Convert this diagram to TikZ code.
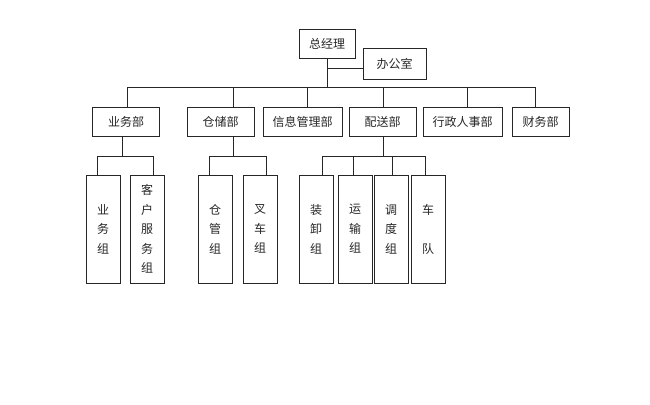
\documentclass[tikz,border=0pt]{standalone}
\usepackage{fontspec}
\newfontfamily\cjk{Noto Sans CJK SC}
\begin{document}
\begin{tikzpicture}[x=0.75pt,y=-0.75pt,
  box/.style={draw=black!85,line width=0.75pt,inner sep=0pt,font=\cjk\fontsize{9}{11}\selectfont,text=black!85,minimum height=29*0.75pt},
  leaf/.style={draw=black!85,line width=0.75pt,inner sep=0pt,font=\cjk\fontsize{9}{14.6}\selectfont,text=black!85,align=center,minimum width=34*0.75pt,minimum height=108*0.75pt},
  conn/.style={draw=black!85,line width=0.75pt}]
\useasboundingbox (0,0) rectangle (650,404);
% top
\node[box,minimum width=56*0.75pt] (gm) at (327,43.5) {总经理};
\node[box,minimum width=63*0.75pt,minimum height=31*0.75pt] (of) at (394.5,63.5) {办公室};
% level 2
\node[box,minimum width=67*0.75pt] (yw) at (126,121.5) {业务部};
\node[box,minimum width=67*0.75pt] (cc) at (220.5,121.5) {仓储部};
\node[box,minimum width=79*0.75pt] (xx) at (302.5,121.5) {信息管理部};
\node[box,minimum width=67*0.75pt] (ps) at (382.5,121.5) {配送部};
\node[box,minimum width=79*0.75pt] (xz) at (462.5,121.5) {行政人事部};
\node[box,minimum width=57*0.75pt] (cw) at (540.5,121.5) {财务部};
\coordinate (bus) at (0,87);
\coordinate (sub) at (0,156);
\coordinate (gmx) at ([xshift=0.4pt]gm.south);
\coordinate (ofx) at ([yshift=-3.4pt]of.west);
% attach points on level-2 boxes
\coordinate (ywt) at ([xshift=0.75pt]yw.north);
\coordinate (cct) at ([xshift=9.4pt]cc.north);
\coordinate (xxt) at ([xshift=4.1pt]xx.north);
\coordinate (pst) at ([xshift=0.4pt]ps.north);
\coordinate (xzt) at ([xshift=4.1pt]xz.north);
\coordinate (cwt) at ([xshift=-4.1pt]cw.north);
\coordinate (ywb) at ([xshift=-3pt]yw.south);
\coordinate (ccb) at ([xshift=10pt]cc.south);
\coordinate (psb) at ([xshift=0.4pt]ps.south);
% leaves
\node[leaf] (l1) at (103,229) {业\\务\\组};
\node[leaf] (l2) at (147,229) {客\\户\\服\\务\\组};
\node[leaf] (l3) at (215,229) {仓\\管\\组};
\node[leaf] (l4) at (260,229) {叉\\车\\组};
\node[leaf] (l5) at (316,229) {装\\卸\\组};
\node[leaf] (l6) at (355,229) {运\\输\\组};
\node[leaf] (l7) at (391,229) {调\\度\\组};
\node[leaf] (l8) at (428,229) {车\\\mbox{}\\队};
% top connectors
\draw[conn] (gmx) -- (gmx |- bus);
\draw[conn] (ofx) -- (ofx -| gmx);
\draw[conn] (ywt |- bus) -- (cwt |- bus);
\foreach \n in {ywt,cct,xxt,pst,xzt,cwt} \draw[conn] (\n) -- (\n |- bus);
% sub connectors
\foreach \p/\a/\b in {ywb/l1/l2,ccb/l3/l4} {
  \draw[conn] (\p) -- (\p |- sub);
  \draw[conn] ([xshift=-4.5pt]\a.north) -- ([xshift=-4.5pt]\a.north |- sub) -- ([xshift=4.5pt]\b.north |- sub) -- ([xshift=4.5pt]\b.north);
}
\draw[conn] (psb) -- (psb |- sub);
\draw[conn] ([xshift=4.5pt]l5.north) -- ([xshift=4.5pt]l5.north |- sub) -- ([xshift=-2.25pt]l8.north |- sub) -- ([xshift=-2.25pt]l8.north);
\draw[conn] ([xshift=-1.5pt]l6.north) -- ([xshift=-1.5pt]l6.north |- sub);
\draw[conn] ([xshift=0.75pt]l7.north) -- ([xshift=0.75pt]l7.north |- sub);
\end{tikzpicture}
\end{document}
